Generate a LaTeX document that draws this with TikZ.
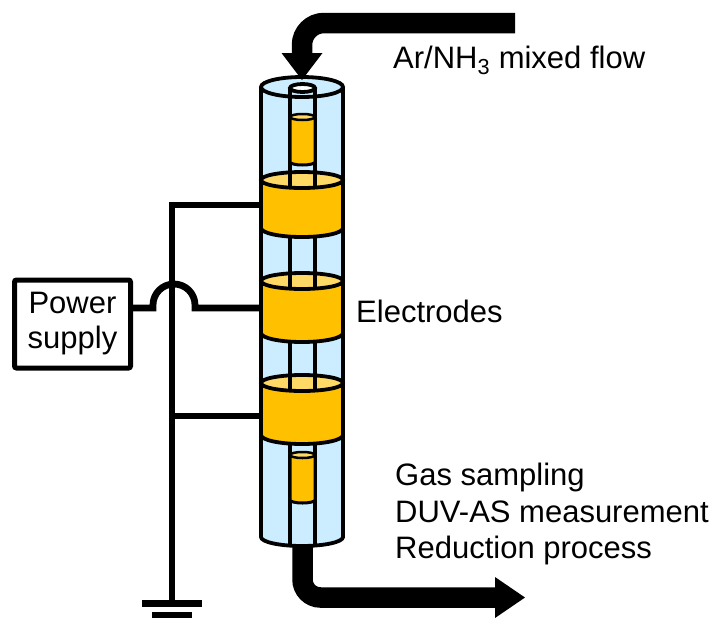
\documentclass[tikz,border=0pt]{standalone}
\usepackage{fontspec}
\setmainfont{Liberation Sans}
\begin{document}
\begin{tikzpicture}[x=1pt,y=-1pt,
  tube/.style={line width=3.8pt, draw=black},
  wire/.style={line width=6.8pt, draw=black},
  flow/.style={line width=20.5pt, draw=black, line cap=butt},
  lbl/.style={font=\fontsize{31}{36}\selectfont, anchor=base west, inner sep=0pt},
]
\definecolor{glass}{RGB}{204,236,255}
\definecolor{metal}{RGB}{255,192,0}
\definecolor{metaltop}{RGB}{255,217,102}
\useasboundingbox (0,0) rectangle (717,625);

% gas outlet: leaves the bottom of the reactor and turns right
\coordinate (outlet) at (302.5,520);
\coordinate (exhaust) at (525,597.5);
\draw[flow, rounded corners=18pt] (outlet) -- (302.5,597.5) -- (496,597.5);
\fill (495,577) -- (exhaust) -- (495,618) -- cycle;

% outer quartz tube
\fill[glass] (261,87) -- (261,537) arc[start angle=180,end angle=360,x radius=41pt,y radius=9pt] -- (343,87) -- cycle;
\draw[tube] (261,87) -- (261,537) arc[start angle=180,end angle=360,x radius=41pt,y radius=9pt] -- (343,87);
\draw[tube, fill=glass] (302,87) ellipse[x radius=41pt, y radius=10pt];

% inner tube
\draw[tube] (290,88) -- (290,545);
\draw[tube] (315,88) -- (315,545);
\draw[tube, fill=white] (302.5,88) ellipse[x radius=12.5pt, y radius=4pt];

% small metal pieces inside the inner tube
\foreach \t/\b in {117/162, 455/500}{
  \draw[line width=3pt, fill=metal] (290,\t) -- (290,\b) arc[start angle=180,end angle=360,x radius=12.5pt,y radius=3pt] -- (315,\t);
  \draw[line width=2.5pt, fill=metaltop] (302.5,\t) ellipse[x radius=12.5pt, y radius=3pt];
}

% ring electrodes
\foreach \t/\b in {180/228, 281/333, 383/435}{
  \fill[metal] (261,\t) -- (261,\b) arc[start angle=180,end angle=360,x radius=41pt,y radius=9pt] -- (343,\t) -- cycle;
  \draw[tube] (261,\t) -- (261,\b) arc[start angle=180,end angle=360,x radius=41pt,y radius=9pt] -- (343,\t);
  \fill[metaltop] (302,\t) ellipse[x radius=41pt, y radius=8pt];
  \begin{scope}
    \clip (302,\t) ellipse[x radius=41pt, y radius=8pt];
    \draw[tube] (290,\t-10) -- (290,\t+10);
    \draw[tube] (315,\t-10) -- (315,\t+10);
  \end{scope}
  \draw[tube] (302,\t) ellipse[x radius=41pt, y radius=8pt];
}
% contact points of the electrodes
\coordinate (e1) at (261,205);
\coordinate (e2) at (261,308);
\coordinate (e3) at (261,416);

% gas inlet: arrives from the right and turns down into the tube
\coordinate (feed) at (515,23);
\coordinate (inlet) at (302,80);
\draw[flow, rounded corners=22pt] (feed) -- (302,23) -- (302,55);
\fill (281.5,53) -- (322.5,53) -- (inlet) -- cycle;

% power supply
\node[draw, line width=5pt, rounded corners=2pt, minimum width=116pt, minimum height=88pt,
      align=center, font=\fontsize{31}{35}\selectfont, inner sep=0pt] (ps) at (72.5,324) {Power\\supply};

% wiring
\coordinate (gnd) at (172,603);
\coordinate (j3) at (172,416);
\draw[wire] (gnd) -- (172,205) -- (e1);
\draw[wire] (j3) -- (e3);
\draw[wire] (ps.east |- e2) -- (153,308) -- (153,305) arc[start angle=180,end angle=0,radius=21pt] -- (195,308) -- (e2);

% ground symbol
\draw[line width=7pt] (142,603) -- (202,603);
\draw[line width=6pt] (152,614.5) -- (192,614.5);

% labels
\node[lbl] (flowlbl) at (393,68) {Ar/NH\textsubscript{3} mixed flow};
\node[lbl] (eleclbl) at (356,322) {Electrodes};
\node[lbl] (use1) at (395,485) {Gas sampling};
\node[lbl] (use2) at (395,522) {DUV-AS measurement};
\node[lbl] (use3) at (395,558) {Reduction process};
\end{tikzpicture}
\end{document}
